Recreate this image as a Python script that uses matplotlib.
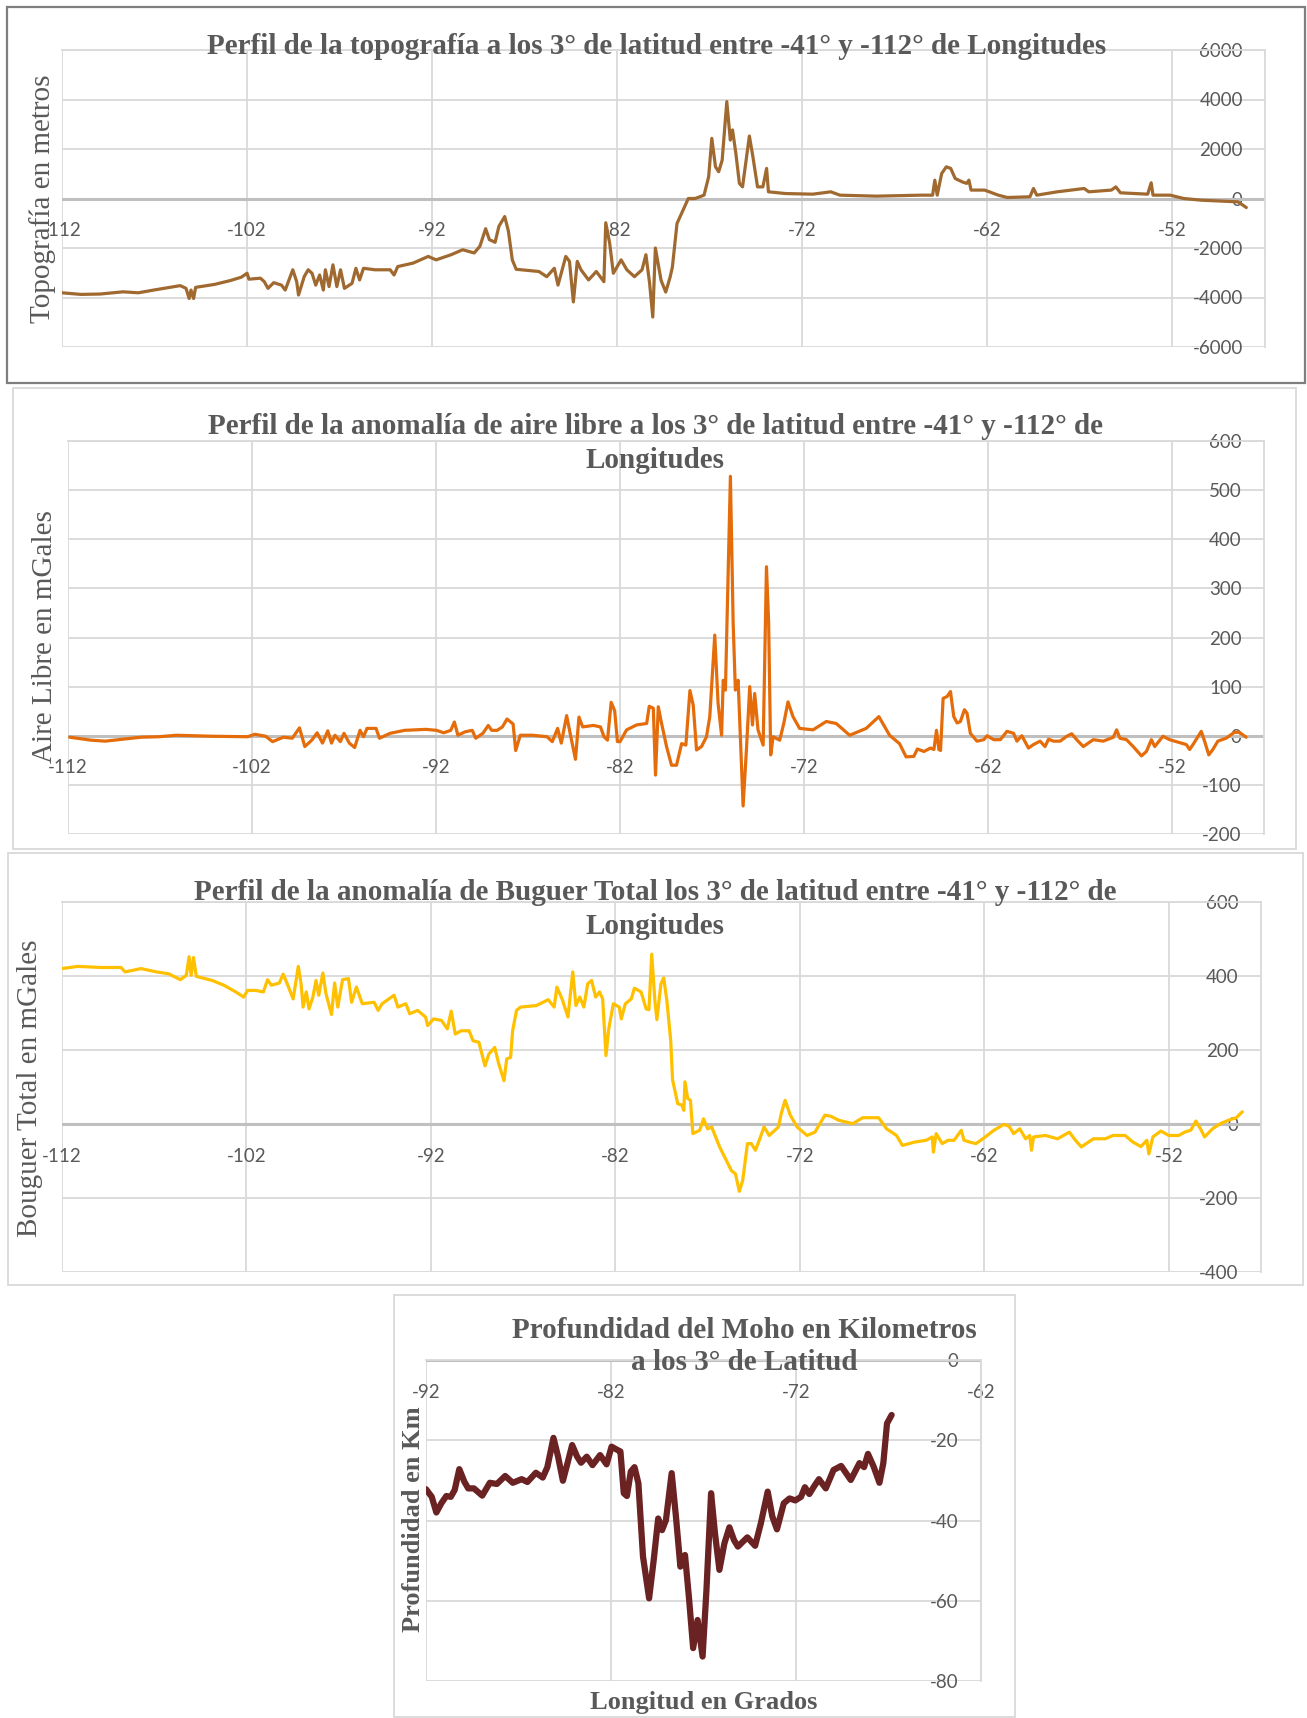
import numpy as np
import matplotlib
matplotlib.use("Agg")
import matplotlib.pyplot as plt
from matplotlib.patches import Rectangle

plt.rcParams['font.family'] = ['Lato', 'DejaVu Sans']
plt.rcParams['axes.unicode_minus'] = False

# ---- data ----
topo_lon = [-112.00, -110.97, -109.94, -108.70, -107.88, -107.05, -106.23, -105.61, -105.30, -105.13,
            -105.03, -104.89, -104.78, -103.75, -102.93, -102.31, -102.00, -101.90, -101.28, -101.07,
            -100.87, -100.56, -100.14, -99.94, -99.53, -99.32, -99.22, -98.91, -98.70, -98.49,
            -98.29, -98.08, -97.88, -97.77, -97.57, -97.36, -97.15, -96.95, -96.74, -96.33,
            -96.12, -95.92, -95.71, -95.09, -94.27, -94.06, -93.86, -93.03, -92.21, -91.79,
            -90.97, -90.35, -89.73, -89.42, -89.11, -88.91, -88.60, -88.39, -88.08, -87.88,
            -87.67, -87.46, -86.23, -85.81, -85.40, -85.20, -84.78, -84.58, -84.37, -84.16,
            -83.96, -83.55, -83.13, -82.72, -82.62, -82.41, -82.21, -81.79, -81.48, -81.07,
            -80.66, -80.45, -80.25, -80.08, -79.94, -79.63, -79.38, -79.14, -79.02, -78.77,
            -78.53, -78.28, -78.16, -77.79, -77.31, -77.06, -76.89, -76.69, -76.52, -76.33,
            -76.08, -75.89, -75.77, -75.59, -75.40, -75.23, -75.06, -74.86, -74.67, -74.42,
            -74.13, -73.93, -73.83, -72.90, -71.44, -70.46, -69.97, -68.01, -65.57, -64.96,
            -64.84, -64.71, -64.47, -64.22, -63.98, -63.74, -63.37, -63.12, -63.00, -62.88,
            -62.15, -61.41, -60.92, -59.70, -59.51, -59.33, -58.23, -56.77, -56.52, -55.30,
            -55.06, -54.81, -53.34, -53.15, -53.05, -52.12, -51.39, -50.41, -48.46, -48.01]
topo_val = [-3810, -3875, -3860, -3770, -3810, -3700, -3600, -3520, -3630, -4040,
            -3700, -4040, -3590, -3470, -3320, -3180, -3020, -3260, -3220, -3360,
            -3630, -3400, -3500, -3700, -2880, -3360, -3900, -3150, -2880, -3020,
            -3500, -3090, -3700, -2880, -3560, -2680, -3560, -2880, -3630, -3430,
            -2820, -3290, -2820, -2880, -2880, -3090, -2750, -2610, -2340, -2480,
            -2270, -2070, -2200, -1930, -1220, -1660, -1770, -1120, -730, -1320,
            -2480, -2860, -2950, -3160, -2820, -3500, -2340, -2540, -4180, -2540,
            -2880, -3290, -2950, -3360, -980, -1800, -3020, -2480, -2880, -3160,
            -2880, -2270, -3430, -4790, -2000, -3310, -3780, -3170, -2770, -1010,
            -610, -200, 0, 0, 135, 880, 2430, 1280, 1080, 1550,
            3915, 2360, 2770, 1820, 610, 470, 1420, 2525, 1690, 470,
            470, 1215, 270, 200, 175, 270, 135, 95, 135, 135,
            740, 135, 1010, 1280, 1215, 810, 675, 610, 740, 340,
            340, 135, 40, 70, 405, 135, 270, 405, 270, 340,
            470, 230, 175, 635, 135, 135, 0, -70, -135, -365]

aire_lon = [-111.91, -110.75, -109.98, -109.01, -108.04, -107.07, -106.10, -104.17, -102.23, -101.85,
            -101.26, -100.88, -100.30, -99.81, -99.42, -99.13, -98.75, -98.46, -98.17, -97.88,
            -97.68, -97.49, -97.20, -97.00, -96.71, -96.42, -96.13, -95.94, -95.75, -95.26,
            -95.07, -94.49, -93.71, -92.55, -91.97, -91.58, -91.20, -91.00, -90.81, -90.42,
            -90.03, -89.84, -89.45, -89.16, -88.97, -88.68, -88.39, -88.14, -87.81, -87.67,
            -87.42, -86.74, -85.97, -85.68, -85.39, -85.19, -84.90, -84.71, -84.42, -84.23,
            -84.03, -83.45, -83.06, -82.87, -82.68, -82.48, -82.29, -82.14, -82.00, -81.64,
            -81.10, -80.55, -80.41, -80.19, -80.07, -79.92, -79.74, -79.47, -79.20, -78.93,
            -78.65, -78.42, -78.20, -78.02, -77.84, -77.57, -77.30, -77.12, -76.85, -76.67,
            -76.48, -76.39, -76.27, -76.00, -75.85, -75.73, -75.58, -75.31, -75.13, -74.95,
            -74.80, -74.68, -74.50, -74.22, -74.04, -73.92, -73.81, -73.68, -73.32, -73.10,
            -72.87, -72.60, -72.24, -71.51, -70.79, -70.25, -69.52, -68.62, -67.93, -67.35,
            -66.81, -66.45, -66.03, -65.84, -65.48, -65.12, -64.94, -64.80, -64.67, -64.58,
            -64.44, -64.22, -64.04, -63.86, -63.68, -63.50, -63.28, -63.14, -62.96, -62.60,
            -62.23, -62.05, -61.69, -61.33, -60.97, -60.61, -60.43, -60.16, -59.80, -59.53,
            -59.17, -58.90, -58.71, -58.44, -58.08, -57.72, -57.45, -57.18, -56.82, -56.55,
            -56.28, -55.74, -55.19, -55.01, -54.83, -54.47, -54.11, -53.66, -53.39, -53.12,
            -52.94, -52.49, -52.13, -51.58, -51.22, -51.04, -50.86, -50.41, -50.23, -50.00,
            -49.78, -49.51, -49.06, -48.61, -48.34, -47.97]
aire_val = [-3, -9, -11, -7, -3, -2, 1, -1, -2, 3,
            -1, -12, -3, -5, 16, -22, -9, 6, -15, 10,
            -15, 1, -12, 5, -15, -24, 11, -2, 15, 15,
            -5, 5, 11, 13, 11, 6, 11, 28, 1, 8,
            11, -5, 5, 21, 11, 11, 18, 34, 24, -30,
            1, 1, -2, -12, 15, -15, 41, 5, -48, 38,
            18, 21, 18, -2, -9, 68, 51, -12, -12, 12,
            22, 25, 60, 56, -80, 59, 25, -22, -60, -60,
            -16, -19, 92, 62, -29, -22, -2, 39, 205, 66,
            1, 113, 93, 528, 229, 93, 113, -143, -29, 100,
            22, 86, 12, -19, 344, 229, -39, -2, -9, 25,
            69, 39, 15, 12, 29, 25, 1, 15, 39, 1,
            -16, -43, -42, -27, -32, -25, -28, 11, -28, -30,
            76, 80, 90, 39, 26, 29, 53, 46, 5, -11,
            -8, 0, -8, -8, 9, 5, -11, 0, -25, -18,
            -11, -22, -7, -11, -11, -1, 4, -8, -22, -15,
            -8, -11, -3, 12, -5, -8, -22, -41, -32, -8,
            -22, -1, -8, -14, -18, -28, -18, 9, -11, -39,
            -28, -11, -5, 7, 7, -3]

boug_lon = [-112.01, -111.15, -109.87, -108.80, -108.58, -107.72, -106.87, -106.22, -105.58, -105.26,
            -105.11, -105.00, -104.87, -104.72, -103.86, -103.22, -102.58, -102.15, -101.94, -101.51,
            -101.08, -100.86, -100.65, -100.22, -100.01, -99.79, -99.47, -99.19, -99.04, -98.93,
            -98.76, -98.61, -98.40, -98.23, -98.08, -97.86, -97.69, -97.39, -97.22, -97.05,
            -96.79, -96.47, -96.30, -96.04, -95.72, -95.08, -94.86, -94.65, -94.00, -93.79,
            -93.36, -93.15, -92.72, -92.29, -92.18, -91.86, -91.43, -91.11, -90.90, -90.68,
            -90.36, -89.93, -89.72, -89.40, -89.07, -88.86, -88.54, -88.32, -88.04, -87.89,
            -87.68, -87.57, -87.36, -87.14, -86.29, -85.64, -85.32, -85.17, -84.89, -84.57,
            -84.31, -84.14, -83.93, -83.71, -83.50, -83.29, -83.07, -82.86, -82.69, -82.51,
            -82.36, -82.11, -81.79, -81.68, -81.46, -81.14, -80.97, -80.61, -80.33, -80.18,
            -80.03, -79.86, -79.75, -79.53, -79.38, -79.21, -79.00, -78.90, -78.62, -78.40,
            -78.29, -78.23, -78.08, -77.93, -77.80, -77.43, -77.22, -77.00, -76.78, -76.35,
            -76.03, -75.71, -75.49, -75.28, -75.10, -74.84, -74.63, -74.41, -74.20, -73.94,
            -73.66, -73.16, -73.01, -72.80, -72.52, -72.15, -71.61, -71.18, -70.64, -70.32,
            -69.89, -69.13, -68.59, -67.73, -67.30, -66.76, -66.44, -65.79, -65.15, -64.82,
            -64.76, -64.61, -64.28, -63.96, -63.64, -63.25, -63.10, -62.78, -62.45, -62.00,
            -61.48, -60.94, -60.66, -60.41, -60.08, -59.76, -59.54, -59.44, -59.33, -58.68,
            -58.03, -57.39, -57.06, -56.74, -56.09, -55.45, -55.02, -54.37, -53.94, -53.51,
            -53.19, -53.08, -52.86, -52.43, -52.00, -51.46, -51.14, -50.81, -50.53, -50.28,
            -50.06, -49.63, -49.20, -48.77, -48.34, -48.01]
boug_val = [420, 426, 423, 423, 411, 420, 411, 406, 390, 402,
            452, 402, 450, 399, 388, 375, 357, 343, 361, 361,
            357, 390, 375, 381, 405, 379, 338, 426, 379, 316,
            357, 311, 343, 388, 348, 408, 352, 296, 381, 316,
            390, 393, 329, 370, 325, 329, 307, 325, 348, 316,
            325, 298, 307, 289, 266, 284, 280, 257, 305, 243,
            252, 252, 225, 221, 157, 189, 207, 162, 117, 176,
            180, 252, 307, 316, 320, 336, 316, 370, 338, 289,
            411, 320, 343, 316, 379, 388, 343, 357, 338, 185,
            257, 325, 316, 284, 325, 338, 367, 357, 311, 309,
            459, 334, 282, 379, 395, 334, 225, 119, 55, 51,
            37, 114, 69, 64, -26, -17, 14, -13, -8, -62,
            -94, -126, -135, -182, -153, -53, -53, -71, -44, -8,
            -31, -8, 28, 64, 24, -8, -31, -22, 24, 21,
            10, 1, 17, 17, -13, -31, -58, -49, -44, -35,
            -76, -26, -53, -44, -44, -17, -44, -49, -53, -37,
            -17, -1, -6, -26, -13, -40, -31, -71, -35, -31,
            -40, -22, -44, -62, -40, -40, -31, -31, -49, -61,
            -44, -81, -35, -19, -31, -31, -22, -17, 8, -13,
            -35, -13, 1, 10, 17, 33]

moho_lon = [-92.00, -91.69, -91.44, -91.17, -90.90, -90.66, -90.45, -90.20, -89.93, -89.72,
            -89.41, -88.96, -88.55, -88.17, -87.72, -87.31, -86.83, -86.52, -86.06, -85.69,
            -85.44, -85.11, -84.86, -84.60, -84.35, -84.10, -83.83, -83.62, -83.31, -83.00,
            -82.59, -82.24, -81.97, -81.66, -81.49, -81.31, -81.14, -80.93, -80.73, -80.52,
            -80.27, -79.94, -79.69, -79.45, -79.24, -79.03, -78.72, -78.49, -78.25, -78.00,
            -77.79, -77.56, -77.32, -77.05, -76.84, -76.59, -76.38, -76.14, -75.87, -75.60,
            -75.35, -75.14, -74.63, -74.21, -73.90, -73.53, -73.28, -73.03, -72.66, -72.35,
            -72.04, -71.73, -71.52, -71.28, -71.01, -70.76, -70.39, -69.97, -69.56, -69.04,
            -68.57, -68.32, -68.11, -67.80, -67.49, -67.28, -67.08, -66.83]
moho_val = [-32.2, -34.1, -38.0, -35.7, -33.9, -34.1, -32.4, -27.2, -30.3, -32.0,
            -32.0, -33.8, -30.6, -30.9, -28.9, -30.6, -29.7, -30.4, -28.1, -29.3,
            -26.7, -19.4, -24.1, -30.1, -25.7, -21.2, -24.1, -25.6, -24.1, -26.2,
            -23.7, -26.0, -21.6, -22.4, -22.8, -33.2, -33.9, -27.8, -26.7, -30.7,
            -49.0, -59.4, -49.8, -39.5, -42.4, -39.9, -28.2, -39.0, -51.5, -48.6,
            -59.0, -71.8, -64.8, -73.9, -57.3, -33.2, -43.2, -52.3, -45.7, -41.7,
            -44.9, -46.5, -44.2, -46.3, -40.7, -32.8, -39.0, -42.2, -35.7, -34.5,
            -35.0, -34.1, -31.7, -33.4, -31.4, -29.7, -32.0, -27.4, -26.4, -29.9,
            -25.7, -26.7, -23.4, -26.6, -30.6, -25.7, -15.8, -13.7]

lon_ticks = [-112, -102, -92, -82, -72, -62, -52]
moho_ticks = [-92, -82, -72, -62]

W, H = 1307, 1718
fig = plt.figure(figsize=(W / 100, H / 100), dpi=100)

GRAY = '#595959'
GRID = '#D9D9D9'
SERIF = 'Liberation Serif'


def box(x0, y0, x1, y1, color, lw):
    fig.add_artist(Rectangle((x0 / W, 1 - y1 / H), (x1 - x0) / W, (y1 - y0) / H,
                             transform=fig.transFigure, fill=False, ec=color, lw=lw))


def panel(l, t, r, b, x, y, color, lw, xlim, ylim, ystep, xticks):
    ax = fig.add_axes([l / W, 1 - b / H, (r - l) / W, (b - t) / H])
    ax.plot(x, y, color=color, lw=lw, solid_joinstyle='round', solid_capstyle='round', zorder=3)
    ax.set_xlim(xlim)
    ax.set_ylim(ylim)
    yt = np.arange(ylim[0], ylim[1] + ystep, ystep)
    ax.set_xticks(xticks)
    ax.set_xticklabels([str(v) for v in xticks])
    ax.set_yticks(yt)
    ax.set_yticklabels([str(int(v)) for v in yt])
    ax.grid(True, color=GRID, lw=1.3)
    ax.set_axisbelow(True)
    ax.axhline(0, color='#BFBFBF', lw=2.2, zorder=2)
    for s in ax.spines.values():
        s.set_color(GRID)
        s.set_linewidth(1.3)
    ax.spines['bottom'].set_position(('data', 0))
    ax.spines['bottom'].set_visible(False)
    ax.spines['left'].set_position(('axes', 1.0))
    ax.spines['left'].set_visible(False)
    ax.tick_params(length=0, labelsize=13.5, labelcolor=GRAY)
    ax.tick_params(axis='x', pad=17)
    ax.tick_params(axis='y', pad=16)
    return ax


def ftext(x, y, s, size, weight='bold', rot=0):
    fig.text(x / W, 1 - y / H, s, ha='center', va='center', rotation=rot,
             fontsize=size, fontweight=weight, color=GRAY, family=SERIF)


# panel boxes
box(7, 7, 1305, 383, '#7F7F7F', 1.6)
box(13, 388, 1296, 849, GRID, 1.3)
box(8, 853, 1303, 1285, GRID, 1.3)
box(394, 1295, 1015, 1717, GRID, 1.3)

# 1 - topografia
panel(62, 50, 1265, 347, topo_lon, topo_val, '#A0692F', 2.3, (-112, -47), (-6000, 6000), 2000, lon_ticks)
ftext(657, 47, 'Perfil de la topografía a los 3° de latitud entre -41° y -112° de Longitudes', 21)
ftext(43, 199, 'Topografía en metros', 21, weight='normal', rot=90)

# 2 - aire libre
panel(68, 441, 1264, 834, aire_lon, aire_val, '#E46C0A', 2.3, (-112, -47), (-200, 600), 100, lon_ticks)
ftext(655, 427, 'Perfil de la anomalía de aire libre a los 3° de latitud entre -41° y -112° de', 21)
ftext(655, 460, 'Longitudes', 21)
ftext(45, 637, 'Aire Libre en mGales', 21, weight='normal', rot=90)

# 3 - bouguer
panel(62, 902, 1261, 1272, boug_lon, boug_val, '#FFC000', 2.3, (-112, -47), (-400, 600), 200, lon_ticks)
ftext(655, 893, 'Perfil de la anomalía de Buguer Total los 3° de latitud entre -41° y -112° de', 21)
ftext(655, 927, 'Longitudes', 21)
ftext(30, 1088, 'Bouguer Total en mGales', 21, weight='normal', rot=90)

# 4 - moho
panel(426, 1360, 981, 1681, moho_lon, moho_val, '#6B2222', 4.5, (-92, -62), (-80, 0), 20, moho_ticks)
ftext(744, 1330, 'Profundidad del Moho en Kilometros', 21)
ftext(744, 1363, 'a los 3° de Latitud', 21)
ftext(414, 1519, 'Profundidad en Km', 19, rot=90)
ftext(704, 1703, 'Longitud en Grados', 19)

fig.savefig('out.png', dpi=100)
